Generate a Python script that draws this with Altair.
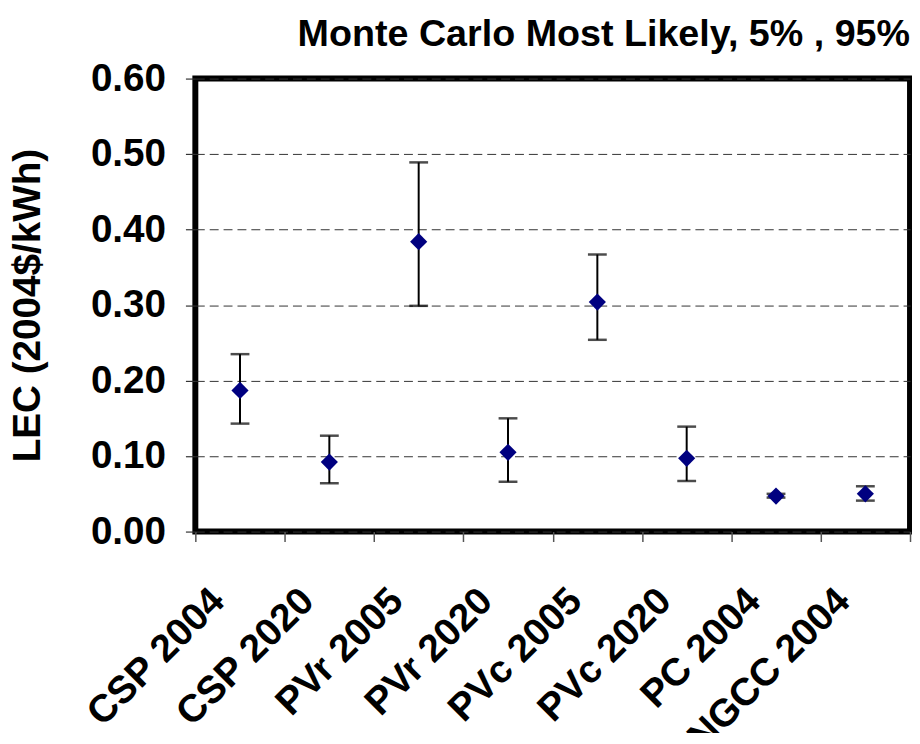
import altair as alt
import pandas as pd

categories = ["CSP 2004", "CSP 2020", "PVr 2005", "PVr 2020",
              "PVc 2005", "PVc 2020", "PC 2004", "NGCC 2004"]
most_likely = [0.187, 0.092, 0.384, 0.105, 0.304, 0.097, 0.047, 0.050]
p5 = [0.143, 0.064, 0.299, 0.066, 0.254, 0.067, 0.045, 0.041]
p95 = [0.235, 0.127, 0.489, 0.150, 0.367, 0.139, 0.050, 0.060]
y_ticks = [0.0, 0.1, 0.2, 0.3, 0.4, 0.5, 0.6]

df = pd.DataFrame({"cat": categories, "ml": most_likely, "lo": p5, "hi": p95})

FONT = "Liberation Sans"
FS = 39

x_enc = alt.X("cat:N", sort=categories,
              scale=alt.Scale(paddingInner=0, paddingOuter=0),
              axis=alt.Axis(title=None, labelAngle=-45, labelAlign="right",
                            labelBaseline="top", labelLimit=0,
                            labelFont=FONT, labelFontSize=FS, labelFontWeight="bold",
                            labelColor="black", labelOffset=-36, labelPadding=40,
                            tickBand="extent", tickSize=10, tickColor="#555555",
                            tickWidth=1.5, domain=False, grid=False))
y_scale = alt.Scale(domain=[0, 0.6], nice=False, zero=True)
y_axis = alt.Axis(title="LEC (2004$/kWh)", values=y_ticks, format=".2f",
                  labelFont=FONT, labelFontSize=FS, labelFontWeight="bold",
                  labelColor="black", labelPadding=20,
                  titleFont=FONT, titleFontSize=FS, titleFontWeight="bold",
                  titleColor="black", titlePadding=43,
                  tickSize=10, tickColor="#333333", tickWidth=1.2, domain=False,
                  grid=True, gridDash=[9, 5], gridColor="#333333", gridWidth=1)

base = alt.Chart(df)

rules = base.mark_rule(color="black", strokeWidth=2).encode(
    x=x_enc, y=alt.Y("lo:Q", scale=y_scale, axis=y_axis), y2="hi:Q")
caps_hi = base.mark_tick(color="black", thickness=2.5, size=19).encode(
    x=alt.X("cat:N", sort=categories), y=alt.Y("hi:Q"))
caps_lo = base.mark_tick(color="black", thickness=2.5, size=19).encode(
    x=alt.X("cat:N", sort=categories), y=alt.Y("lo:Q"))
points = base.mark_point(shape="diamond", filled=True, color="#000080",
                         size=300, opacity=1).encode(
    x=alt.X("cat:N", sort=categories), y=alt.Y("ml:Q"))

chart = alt.layer(rules, caps_hi, caps_lo, points).properties(
    width=721, height=457,
    title=alt.TitleParams("Monte Carlo Most Likely, 5% , 95%", anchor="end",
                          frame="group", font=FONT, fontSize=38, fontWeight="bold",
                          color="black", baseline="alphabetic", offset=0, dy=24,
                          dx=0),
    autosize=alt.AutoSizeParams(type="none"),
    padding={"left": 189, "top": 68, "right": 2, "bottom": 200},
).configure(background="white").configure_view(stroke="black", strokeWidth=6)

chart.save("out.html", embed_options={"renderer": "svg", "actions": False})
